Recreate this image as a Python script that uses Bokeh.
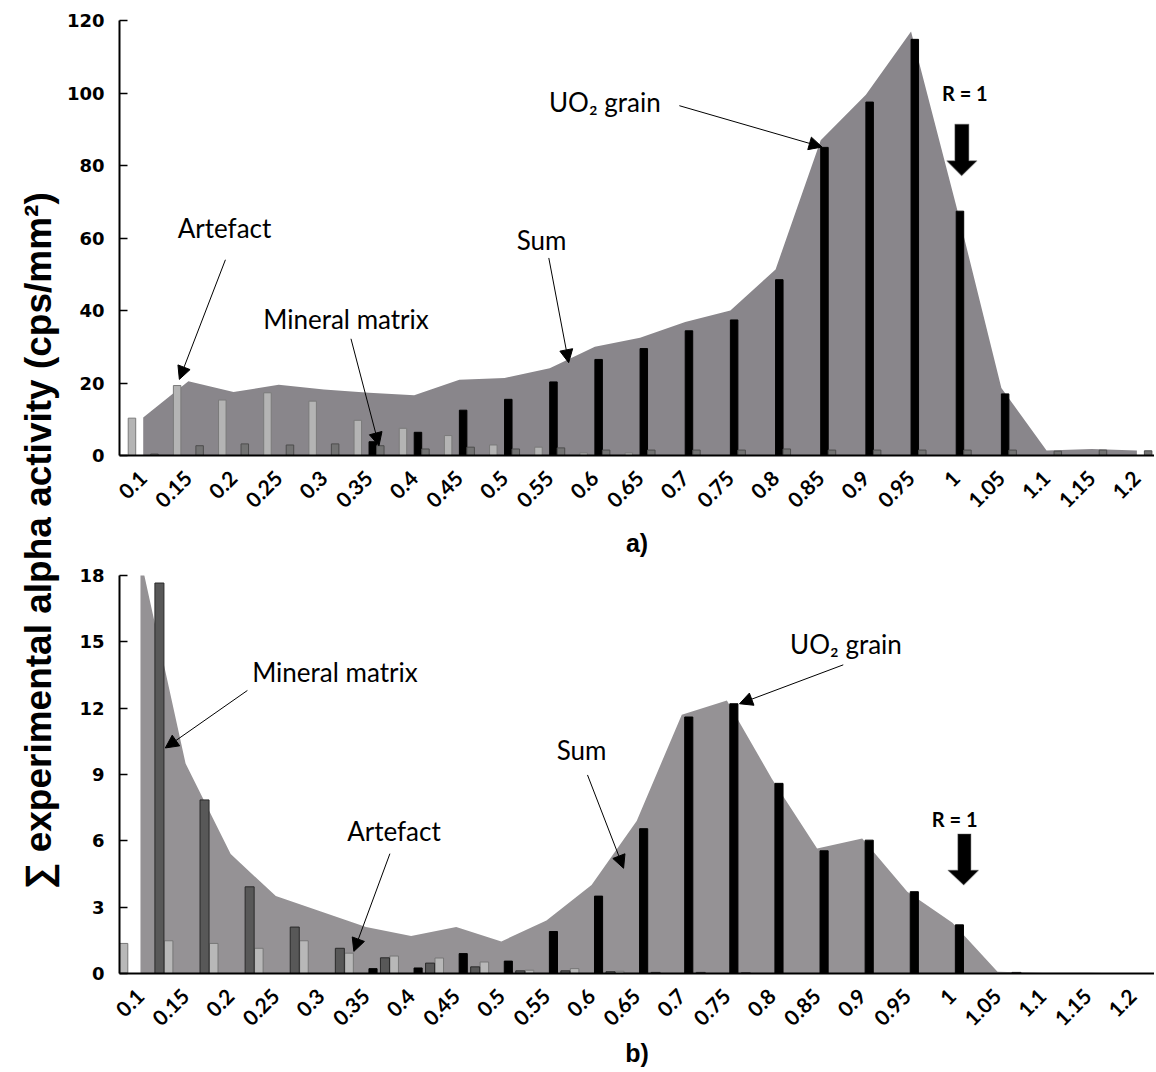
import math
from bokeh.plotting import figure
from bokeh.models import (Range1d, FixedTicker, Label, Arrow, NormalHead,
                          PolyAnnotation, ColumnDataSource)
from bokeh.transform import dodge
from bokeh.layouts import row, column
from bokeh.embed import file_html
from bokeh.resources import INLINE

# ---------------- data ----------------
ratios = ["0.1", "0.15", "0.2", "0.25", "0.3", "0.35", "0.4", "0.45", "0.5", "0.55",
          "0.6", "0.65", "0.7", "0.75", "0.8", "0.85", "0.9", "0.95", "1", "1.05",
          "1.1", "1.15", "1.2"]

# panel a
a_artefact = [10.3, 19.3, 15.3, 17.3, 15.0, 9.7, 7.5, 5.5, 2.9, 2.3, 0.7, 0.7,
              0, 0, 0, 0, 0, 0, 0, 0, 0, 0, 0]
a_uo2 = [0, 0, 0, 0, 0, 3.8, 6.4, 12.5, 15.5, 20.3, 26.5, 29.5, 34.4, 37.4, 48.5,
         85.0, 97.5, 114.8, 67.4, 17.0, 0, 0, 0]
a_mineral = [0.4, 2.7, 3.2, 2.9, 3.2, 2.7, 1.8, 2.3, 1.8, 2.1, 1.5, 1.5, 1.5, 1.5,
             1.8, 1.5, 1.5, 1.5, 1.5, 1.5, 1.2, 1.5, 1.3]
a_sum = [10.5, 20.5, 17.5, 19.5, 18.2, 17.3, 16.6, 20.9, 21.4, 24.1, 30.0, 32.5,
         36.8, 40.0, 51.3, 87.0, 99.5, 117.0, 68.9, 18.6, 1.4, 1.8, 1.4]

# panel b
b_artefact = [1.36, 1.48, 1.36, 1.14, 1.48, 0.92, 0.79, 0.70, 0.52, 0.15, 0.22, 0.10,
              0, 0, 0, 0, 0, 0, 0, 0, 0, 0, 0]
b_uo2 = [0, 0, 0, 0, 0, 0.22, 0.25, 0.90, 0.56, 1.90, 3.50, 6.55, 11.6, 12.2, 8.6,
         5.55, 6.03, 3.70, 2.20, 0, 0, 0, 0]
b_mineral = [17.66, 7.85, 3.92, 2.10, 1.14, 0.71, 0.47, 0.30, 0.12, 0.12, 0.08, 0.05,
             0.05, 0.03, 0, 0, 0, 0, 0, 0.05, 0, 0, 0]
b_sum = [18.8, 9.5, 5.4, 3.5, 2.8, 2.1, 1.7, 2.1, 1.45, 2.4, 4.0, 6.9, 11.7, 12.35,
         8.8, 5.65, 6.1, 3.7, 2.3, 0.08, 0.03, 0.03, 0.0]

a_yticks = [0, 20, 40, 60, 80, 100, 120]
b_yticks = [0, 3, 6, 9, 12, 15, 18]

y_title = "\u2211 experimental alpha activity  (cps/mm\u00b2)"

idx = list(range(len(ratios)))


def base_fig(height, xr, ymax, yticks, border_top, border_bottom, caption):
    p = figure(width=1091, height=height, x_range=Range1d(*xr),
               y_range=Range1d(0, ymax), toolbar_location=None,
               output_backend="svg", min_border_left=54, min_border_right=0,
               min_border_top=border_top, min_border_bottom=border_bottom)
    p.outline_line_color = None
    p.grid.visible = False
    p.xaxis.ticker = FixedTicker(ticks=idx)
    p.xaxis.major_label_overrides = {i: r for i, r in zip(idx, ratios)}
    p.xaxis.major_label_orientation = math.pi / 4
    p.xaxis.major_label_text_font = "Lato"
    p.xaxis.major_label_text_font_style = "bold"
    p.xaxis.major_label_text_font_size = "21px"
    p.xaxis.major_label_text_color = "black"
    p.xaxis.major_tick_line_color = None
    p.xaxis.minor_tick_line_color = None
    p.xaxis.major_label_standoff = 13
    p.xaxis.axis_label = caption
    p.xaxis.axis_label_text_font = "Liberation Sans"
    p.xaxis.axis_label_text_font_style = "bold"
    p.xaxis.axis_label_text_font_size = "25px"
    p.xaxis.axis_label_text_color = "black"
    p.xaxis.axis_label_standoff = 12
    p.yaxis.ticker = FixedTicker(ticks=yticks)
    p.yaxis.major_tick_in = 8
    p.yaxis.major_tick_out = 0
    p.yaxis.minor_tick_line_color = None
    p.yaxis.major_label_text_font = "DejaVu Sans"
    p.yaxis.major_label_text_font_style = "bold"
    p.yaxis.major_label_text_font_size = "18px"
    p.yaxis.major_label_text_color = "black"
    p.yaxis.major_label_standoff = 15
    for ax in (p.xaxis, p.yaxis):
        ax.axis_line_width = 2
        ax.axis_line_color = "black"
        ax.major_tick_line_width = 1.5
    return p


def add_text(p, x, y, text, size="26px", bold=False, font="Lato"):
    p.add_layout(Label(x=x, y=y, text=text, text_align="center",
                       text_baseline="middle", text_font=font,
                       text_font_size=size,
                       text_font_style="bold" if bold else "normal",
                       text_color="black"))


def add_arrow(p, x0, y0, x1, y1):
    p.add_layout(Arrow(end=NormalHead(size=13, fill_color="black",
                                      line_color="black", line_width=1),
                       x_start=x0, y_start=y0, x_end=x1, y_end=y1,
                       line_width=1, line_color="black"))


def fat_arrow(p, xl, xr, hl, hr, xt, ytop, yhead, ytip):
    p.add_layout(PolyAnnotation(xs=[xl, xr, xr, hr, xt, hl, xl, xl],
                                ys=[ytop, ytop, yhead, yhead, ytip, yhead, yhead, ytop],
                                fill_color="black", fill_alpha=1.0,
                                line_color="#666666", line_width=1.5))


# ---------------- panel a ----------------
src_a = ColumnDataSource(dict(x=idx, art=a_artefact, uo2=a_uo2, mine=a_mineral, tot=a_sum))
pa = base_fig(560, (-0.525, 22.39), 120, a_yticks, 20, 100, "a)")
pa.varea(x="x", y1=0, y2="tot", source=src_a, fill_color="#89868b")
pa.vbar(x=dodge("x", -0.249), top="art", width=0.166, source=src_a,
        fill_color="#b4b4b4", line_color="#7a7a7a", line_width=1)
pa.vbar(x=dodge("x", 0.083), top="uo2", width=0.166, source=src_a,
        fill_color="black", line_color="black", line_width=1)
pa.vbar(x=dodge("x", 0.249), top="mine", width=0.166, source=src_a,
        fill_color="#737373", line_color="#4d4d4d", line_width=1)

add_text(pa, 1.80, 62.7, "Artefact")
add_arrow(pa, 1.82, 54.0, 0.80, 21.0)
add_text(pa, 4.49, 37.6, "Mineral matrix")
add_arrow(pa, 4.60, 32.2, 5.22, 2.7)
add_text(pa, 8.82, 59.4, "Sum")
add_arrow(pa, 8.98, 54.5, 9.42, 25.6)
add_text(pa, 10.22, 97.4, "UO\u2082 grain")
add_arrow(pa, 11.87, 96.5, 15.03, 85.1)
add_text(pa, 18.19, 100.1, "R = 1", size="20px", bold=True)
fat_arrow(pa, 17.97, 18.28, 17.79, 18.46, 18.12, 91.4, 81.3, 77.2)

# ---------------- panel b ----------------
src_b = ColumnDataSource(dict(x=idx, art=b_artefact, uo2=b_uo2, mine=b_mineral, tot=b_sum))
pb = base_fig(510, (-0.465, 22.48), 18, b_yticks, 15, 90, "b)")
pb.xaxis.axis_label_standoff = 4
pb.varea(x="x", y1=0, y2="tot", source=src_b, fill_color="#959295")
pb.vbar(x=dodge("x", -0.376), top="art", width=0.19, source=src_b,
        fill_color="#b8b8b8", line_color="#777777", line_width=1)
pb.vbar(x=dodge("x", 0.155), top="uo2", width=0.18, source=src_b,
        fill_color="black", line_color="black", line_width=1)
pb.vbar(x=dodge("x", 0.42), top="mine", width=0.2, source=src_b,
        fill_color="#585858", line_color="#2a2a2a", line_width=1)

add_text(pb, 4.31, 13.64, "Mineral matrix")
add_arrow(pb, 2.37, 12.8, 0.55, 10.2)
add_text(pb, 5.62, 6.44, "Artefact")
add_arrow(pb, 5.53, 5.42, 4.73, 1.0)
add_text(pb, 9.78, 10.13, "Sum")
add_arrow(pb, 9.91, 8.98, 10.71, 4.76)
add_text(pb, 15.64, 14.9, "UO\u2082 grain")
add_arrow(pb, 15.58, 13.96, 13.28, 12.2)
add_text(pb, 18.05, 7.0, "R = 1", size="20px", bold=True)
fat_arrow(pb, 18.12, 18.41, 17.90, 18.58, 18.25, 6.31, 4.67, 4.0)

# ---------------- shared y title ----------------
pt = figure(width=63, height=1070, x_range=Range1d(0, 1), y_range=Range1d(0, 1),
            x_axis_location=None, y_axis_location=None, toolbar_location=None,
            output_backend="svg", min_border=0)
pt.outline_line_color = None
pt.grid.visible = False
pt.add_layout(Label(x=0.6, y=0.5, text=y_title, angle=math.pi / 2,
                    text_align="center", text_baseline="middle",
                    text_font="Liberation Sans", text_font_style="bold",
                    text_font_size="37px", text_color="black"))

layout = row(pt, column(pa, pb))
open("out.html", "w").write(file_html(layout, INLINE))
